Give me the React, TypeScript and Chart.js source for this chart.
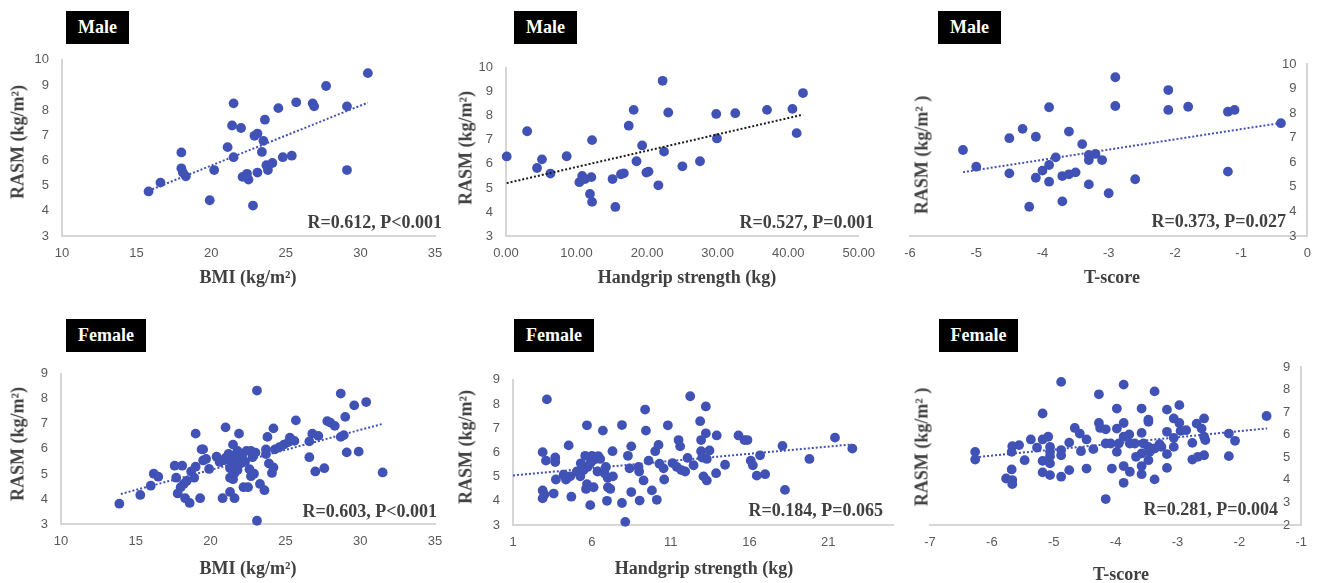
import React, { useEffect, useRef } from 'react';
import { Chart, registerables } from 'chart.js';

Chart.register(...registerables);

// ---------------- data ----------------
const maleBmiX = [15.8, 16.6, 18.0, 18.0, 18.1, 18.3, 19.9, 20.2, 21.1, 21.5, 21.4, 21.5, 22.0, 22.1, 22.4, 22.5, 22.8, 22.9, 23.1, 23.1, 23.5, 23.4, 23.6, 23.7, 23.8, 24.1, 24.5, 24.8, 25.4, 25.7, 26.8, 26.9, 27.7, 29.1, 29.1, 30.5];
const maleBmiY = [4.77, 5.12, 6.32, 5.69, 5.52, 5.37, 4.42, 5.62, 6.53, 8.27, 7.39, 6.13, 7.29, 5.35, 5.47, 5.24, 4.21, 6.98, 7.07, 5.52, 6.78, 6.34, 7.62, 5.81, 5.62, 5.9, 8.08, 6.13, 6.19, 8.31, 8.27, 8.15, 8.96, 8.15, 5.62, 9.47];
const maleBmiTrendX = [15.8, 30.5];
const maleBmiTrendY = [4.8, 8.3];

const maleGripX = [0.1, 3.0, 4.4, 5.1, 6.3, 8.6, 10.4, 10.8, 11.2, 12.1, 12.2, 11.9, 12.2, 15.1, 15.5, 16.3, 16.7, 17.4, 18.1, 18.5, 19.3, 19.9, 20.2, 21.6, 22.2, 22.4, 23.0, 25.0, 27.5, 29.8, 29.9, 32.5, 37.0, 40.6, 41.2, 42.1];
const maleGripY = [6.31, 7.36, 5.83, 6.19, 5.6, 6.32, 5.24, 5.5, 5.37, 5.45, 6.99, 4.75, 4.42, 5.37, 4.21, 5.57, 5.61, 7.59, 8.25, 6.11, 6.77, 5.64, 5.68, 5.11, 9.46, 6.51, 8.14, 5.9, 6.11, 8.08, 7.06, 8.11, 8.25, 8.29, 7.28, 8.95];
const maleGripTrendX = [0.1, 42.1];
const maleGripTrendY = [5.2, 8.05];

const maleTX = [-5.2, -5.0, -4.5, -4.5, -4.3, -4.2, -4.1, -4.1, -4.0, -3.9, -3.9, -3.9, -3.8, -3.7, -3.7, -3.6, -3.6, -3.5, -3.4, -3.3, -3.3, -3.3, -3.2, -3.1, -3.0, -2.9, -2.9, -2.6, -2.1, -2.1, -1.8, -1.2, -1.1, -1.2, -0.4];
const maleTY = [6.5, 5.82, 6.98, 5.55, 7.36, 4.19, 7.04, 5.37, 5.66, 8.24, 5.89, 5.21, 6.2, 5.44, 4.41, 7.25, 5.51, 5.59, 6.74, 6.3, 6.09, 5.1, 6.34, 6.09, 4.74, 9.46, 8.29, 5.31, 8.94, 8.13, 8.26, 8.06, 8.13, 5.62, 7.59];
const maleTTrendX = [-5.2, -0.4];
const maleTTrendY = [5.6, 7.6];

const femaleBmiX = [13.9, 15.3, 16.0, 16.2, 16.5, 17.6, 17.7, 17.8, 18.1, 18.0, 18.2, 18.4, 18.3, 18.6, 18.7, 19.0, 18.9, 19.0, 19.3, 19.4, 19.5, 19.5, 19.7, 19.9, 20.4, 20.6, 20.8, 21.0, 21.0, 21.3, 21.3, 21.3, 21.5, 21.5, 21.5, 21.6, 21.6, 21.8, 21.8, 21.9, 21.9, 22.0, 22.2, 22.4, 22.5, 22.6, 22.7, 22.7, 22.8, 22.9, 23.1, 23.1, 23.3, 23.6, 23.7, 23.7, 23.8, 23.9, 24.1, 24.2, 24.2, 24.3, 24.6, 24.9, 25.2, 25.3, 25.6, 25.7, 26.6, 26.6, 26.8, 27.0, 27.2, 27.6, 27.8, 28.0, 28.3, 28.7, 28.7, 28.9, 29.0, 29.1, 29.6, 29.9, 30.4, 31.5, 21.3, 21.5, 21.8, 22.0, 22.3, 21.7, 21.2, 22.1, 20.9, 23.0];
const femaleBmiY = [3.81, 4.16, 4.53, 5.01, 4.89, 5.33, 4.85, 4.22, 5.33, 4.47, 4.6, 4.72, 4.03, 3.84, 5.1, 5.29, 4.85, 6.61, 4.03, 5.98, 5.98, 5.54, 5.6, 5.2, 5.69, 5.48, 4.03, 6.86, 5.64, 5.54, 4.85, 4.28, 6.17, 5.16, 5.73, 5.04, 4.03, 5.92, 5.42, 6.61, 5.6, 5.79, 4.47, 5.92, 4.47, 5.19, 5.92, 4.91, 5.67, 5.01, 8.33, 3.13, 4.6, 4.35, 5.98, 5.79, 6.48, 5.42, 5.04, 6.82, 5.26, 5.98, 6.07, 6.17, 6.27, 6.45, 6.32, 7.14, 5.67, 6.3, 6.61, 5.1, 6.52, 5.23, 7.11, 7.05, 6.92, 8.21, 6.48, 6.55, 7.28, 5.86, 7.74, 5.89, 7.87, 5.06, 5.23, 4.79, 5.16, 5.42, 5.48, 5.67, 5.8, 5.7, 5.55, 5.85];
const femaleBmiTrendX = [14.0, 31.5];
const femaleBmiTrendY = [4.2, 7.0];

const femaleGripX = [3.15, 2.88, 3.09, 2.88, 2.88, 2.99, 3.58, 3.68, 3.68, 3.72, 4.21, 4.36, 4.53, 4.63, 4.7, 5.05, 5.27, 5.48, 5.58, 5.63, 5.69, 5.69, 5.73, 5.9, 6.01, 6.05, 6.11, 6.22, 6.36, 6.53, 6.7, 6.81, 6.89, 6.96, 7.0, 7.02, 7.17, 7.31, 7.34, 7.91, 7.91, 8.12, 8.29, 8.39, 8.5, 8.5, 8.96, 9.0, 9.03, 9.28, 9.38, 9.43, 9.6, 9.81, 10.02, 10.12, 10.23, 10.29, 10.55, 10.59, 10.82, 11.12, 11.39, 11.5, 11.6, 11.67, 11.92, 12.07, 12.24, 12.45, 12.87, 12.93, 12.93, 13.0, 13.08, 13.23, 13.23, 13.29, 13.29, 13.46, 13.92, 13.88, 14.45, 15.3, 15.68, 15.87, 16.08, 16.21, 16.46, 16.67, 16.99, 18.09, 18.25, 19.8, 21.42, 22.52, 5.3, 6.4, 5.9];
const femaleGripY = [8.19, 6.01, 5.66, 4.43, 4.1, 4.26, 4.3, 5.79, 5.6, 4.88, 5.08, 4.88, 6.29, 5.01, 4.17, 5.21, 5.01, 5.27, 5.86, 4.49, 7.12, 4.69, 5.4, 3.82, 5.86, 5.66, 4.56, 5.73, 5.21, 5.73, 6.9, 5.14, 5.4, 4.0, 4.95, 4.56, 4.49, 6.05, 5.01, 7.13, 3.91, 3.13, 5.86, 5.34, 6.25, 4.36, 5.4, 5.21, 4.01, 4.84, 7.77, 6.9, 5.66, 4.43, 6.05, 4.04, 6.31, 5.53, 5.34, 4.88, 7.12, 5.56, 5.4, 6.51, 6.25, 5.27, 5.21, 5.77, 8.32, 5.47, 7.29, 6.51, 6.05, 5.79, 5.01, 7.9, 6.79, 5.73, 4.84, 6.08, 6.7, 5.14, 5.49, 6.7, 6.51, 6.51, 5.66, 5.47, 5.04, 5.88, 5.1, 6.27, 4.45, 5.73, 6.61, 6.16, 5.55, 5.85, 5.55];
const femaleGripTrendX = [1.0, 22.5];
const femaleGripTrendY = [5.05, 6.33];

const femaleTX = [-6.27, -6.27, -5.77, -5.68, -5.68, -5.67, -5.67, -5.67, -5.56, -5.47, -5.37, -5.27, -5.18, -5.18, -5.18, -5.18, -5.09, -5.06, -5.06, -5.06, -5.06, -5.06, -4.88, -4.88, -4.88, -4.88, -4.75, -4.75, -4.66, -4.58, -4.56, -4.47, -4.47, -4.36, -4.27, -4.27, -4.25, -4.16, -4.16, -4.16, -4.08, -4.06, -3.98, -3.98, -3.98, -3.95, -3.87, -3.87, -3.87, -3.87, -3.87, -3.78, -3.77, -3.77, -3.69, -3.67, -3.58, -3.58, -3.58, -3.58, -3.58, -3.55, -3.47, -3.47, -3.47, -3.47, -3.45, -3.37, -3.37, -3.37, -3.29, -3.26, -3.17, -3.17, -3.17, -3.17, -3.06, -3.06, -3.06, -2.97, -2.97, -2.95, -2.86, -2.76, -2.76, -2.69, -2.67, -2.61, -2.57, -2.57, -2.57, -2.55, -2.17, -2.17, -2.07, -1.56];
const femaleTY = [5.24, 4.9, 4.06, 5.24, 4.46, 3.99, 3.81, 5.49, 5.54, 4.87, 5.79, 5.43, 6.94, 5.79, 4.84, 4.33, 5.91, 5.46, 5.24, 5.05, 4.73, 4.21, 8.34, 5.32, 5.09, 4.14, 5.65, 4.43, 6.3, 6.05, 5.27, 5.79, 4.5, 5.36, 7.79, 6.52, 6.3, 6.24, 3.15, 5.61, 5.61, 4.5, 7.16, 6.27, 5.24, 5.61, 8.22, 6.52, 5.91, 4.61, 3.87, 6.01, 4.36, 5.61, 5.61, 5.02, 7.16, 6.08, 5.17, 4.61, 4.25, 5.61, 6.67, 6.57, 5.46, 4.87, 5.24, 7.92, 5.39, 4.02, 5.58, 5.46, 7.11, 6.13, 5.14, 4.53, 6.72, 5.86, 5.46, 7.31, 6.52, 6.17, 6.2, 5.64, 4.9, 6.49, 5.02, 6.27, 6.72, 5.91, 5.09, 5.76, 6.05, 5.05, 5.73, 6.83];
const femaleTTrendX = [-6.27, -1.55];
const femaleTTrendY = [5.0, 6.28];

// tick values and labels
const bmiTicks = [10, 15, 20, 25, 30, 35];
const bmiTickLabels = ['10', '15', '20', '25', '30', '35'];
const maleGripTicks = [0, 10, 20, 30, 40, 50];
const maleGripTickLabels = ['0.00', '10.00', '20.00', '30.00', '40.00', '50.00'];
const maleTTicks = [-6, -5, -4, -3, -2, -1, 0];
const maleTTickLabels = ['-6', '-5', '-4', '-3', '-2', '-1', '0'];
const femaleGripTicks = [1, 6, 11, 16, 21];
const femaleGripTickLabels = ['1', '6', '11', '16', '21'];
const femaleTTicks = [-7, -6, -5, -4, -3, -2, -1];
const femaleTTickLabels = ['-7', '-6', '-5', '-4', '-3', '-2', '-1'];
const maleYTicks = [3, 4, 5, 6, 7, 8, 9, 10];
const maleYTickLabels = ['3', '4', '5', '6', '7', '8', '9', '10'];
const femaleYTicks = [3, 4, 5, 6, 7, 8, 9];
const femaleYTickLabels = ['3', '4', '5', '6', '7', '8', '9'];
const femaleTYTicks = [2, 3, 4, 5, 6, 7, 8, 9];
const femaleTYTickLabels = ['2', '3', '4', '5', '6', '7', '8', '9'];

const groupLabels = ['Male', 'Female'];
const statLabels = [
  'R=0.612, P<0.001',
  'R=0.527, P=0.001',
  'R=0.373, P=0.027',
  'R=0.603, P<0.001',
  'R=0.184, P=0.065',
  'R=0.281, P=0.004',
];
const xTitles = ['BMI (kg/m²)', 'Handgrip strength (kg)', 'T-score'];
const yTitleLeft = 'RASM (kg/m²)';
const yTitleRight = 'RASM (kg/m² )';

// ---------------- styles ----------------
const BLUE = '#4152B6';
const AXIS = '#d6d6d6';
const TICK = '#595959';
const TEXT = '#404040';
const SERIF = '"Liberation Serif", "Times New Roman", serif';
const SANS = '"Liberation Sans", Arial, sans-serif';

type Spec = {
  xs: number[]; ys: number[]; tx: number[]; ty: number[];
  xMin: number; xMax: number; xTicks: number[]; xLabels: string[];
  yMin: number; yMax: number; yTicks: number[]; yLabels: string[];
  yRight: boolean; trendColor: string;
  area: { l: number; t: number; r: number; b: number };
  group: string; box: { l: number; t: number; w: number; h: number };
  xTitle: string; xTitlePos: [number, number];
  yTitle: string; yTitlePos: [number, number];
  stat: string; statPos: [number, number];
};

const specs: Spec[] = [
  {
    xs: maleBmiX, ys: maleBmiY, tx: maleBmiTrendX, ty: maleBmiTrendY,
    xMin: 10, xMax: 35, xTicks: bmiTicks, xLabels: bmiTickLabels,
    yMin: 3, yMax: 10, yTicks: maleYTicks, yLabels: maleYTickLabels,
    yRight: false, trendColor: BLUE,
    area: { l: 62, t: 51, r: 435, b: 236 },
    group: groupLabels[0], box: { l: 66, t: 11, w: 63, h: 33 },
    xTitle: xTitles[0], xTitlePos: [248, 277],
    yTitle: yTitleLeft, yTitlePos: [18, 142],
    stat: statLabels[0], statPos: [442, 222],
  },
  {
    xs: maleGripX, ys: maleGripY, tx: maleGripTrendX, ty: maleGripTrendY,
    xMin: 0, xMax: 50, xTicks: maleGripTicks, xLabels: maleGripTickLabels,
    yMin: 3, yMax: 10, yTicks: maleYTicks, yLabels: maleYTickLabels,
    yRight: false, trendColor: '#1a1a1a',
    area: { l: 506, t: 59, r: 865, b: 236 },
    group: groupLabels[0], box: { l: 514, t: 11, w: 63, h: 33 },
    xTitle: xTitles[1], xTitlePos: [687, 277],
    yTitle: yTitleLeft, yTitlePos: [466, 148],
    stat: statLabels[1], statPos: [874, 222],
  },
  {
    xs: maleTX, ys: maleTY, tx: maleTTrendX, ty: maleTTrendY,
    xMin: -6, xMax: 0, xTicks: maleTTicks, xLabels: maleTTickLabels,
    yMin: 3, yMax: 10, yTicks: maleYTicks, yLabels: maleYTickLabels,
    yRight: true, trendColor: BLUE,
    area: { l: 910, t: 64, r: 1313, b: 236 },
    group: groupLabels[0], box: { l: 938, t: 11, w: 63, h: 33 },
    xTitle: xTitles[2], xTitlePos: [1112, 277],
    yTitle: yTitleRight, yTitlePos: [922, 155],
    stat: statLabels[2], statPos: [1286, 221],
  },
  {
    xs: femaleBmiX, ys: femaleBmiY, tx: femaleBmiTrendX, ty: femaleBmiTrendY,
    xMin: 10, xMax: 35, xTicks: bmiTicks, xLabels: bmiTickLabels,
    yMin: 3, yMax: 9, yTicks: femaleYTicks, yLabels: femaleYTickLabels,
    yRight: false, trendColor: BLUE,
    area: { l: 61, t: 365, r: 435, b: 524 },
    group: groupLabels[1], box: { l: 66, t: 319, w: 80, h: 33 },
    xTitle: xTitles[0], xTitlePos: [248, 568],
    yTitle: yTitleLeft, yTitlePos: [18, 444],
    stat: statLabels[3], statPos: [437, 511],
  },
  {
    xs: femaleGripX, ys: femaleGripY, tx: femaleGripTrendX, ty: femaleGripTrendY,
    xMin: 1, xMax: 25.1, xTicks: femaleGripTicks, xLabels: femaleGripTickLabels,
    yMin: 3, yMax: 9, yTicks: femaleYTicks, yLabels: femaleYTickLabels,
    yRight: false, trendColor: BLUE,
    area: { l: 513, t: 371, r: 893, b: 525 },
    group: groupLabels[1], box: { l: 514, t: 319, w: 80, h: 33 },
    xTitle: xTitles[1], xTitlePos: [704, 568],
    yTitle: yTitleLeft, yTitlePos: [466, 447],
    stat: statLabels[4], statPos: [883, 510],
  },
  {
    xs: femaleTX, ys: femaleTY, tx: femaleTTrendX, ty: femaleTTrendY,
    xMin: -7, xMax: -1, xTicks: femaleTTicks, xLabels: femaleTTickLabels,
    yMin: 2, yMax: 9, yTicks: femaleTYTicks, yLabels: femaleTYTickLabels,
    yRight: true, trendColor: BLUE,
    area: { l: 930, t: 367, r: 1309, b: 525 },
    group: groupLabels[1], box: { l: 939, t: 319, w: 79, h: 33 },
    xTitle: xTitles[2], xTitlePos: [1121, 574],
    yTitle: yTitleRight, yTitlePos: [922, 447],
    stat: statLabels[5], statPos: [1278, 509],
  },
];

const WY = 45;
const HX = 30;
const PAD_TOP = 12;
const PAD_BOTTOM = 4;

function Panel({ s }: { s: Spec }) {
  const ref = useRef<HTMLCanvasElement>(null);
  const cx = s.area.l - (s.yRight ? 24 : WY + 4);
  const cy = s.area.t - PAD_TOP;
  const cr = s.area.r + (s.yRight ? 8 : 20);
  const cb = s.area.b + HX + PAD_BOTTOM;
  const cw = cr - cx;
  const ch = cb - cy;

  useEffect(() => {
    if (!ref.current) return;
    const chart = new Chart(ref.current, {
      type: 'scatter',
      data: {
        datasets: [
          {
            data: s.tx.map((x, i) => ({ x, y: s.ty[i] })),
            showLine: true,
            borderColor: s.trendColor,
            borderWidth: 2,
            borderDash: [2, 2],
            pointRadius: 0,
            fill: false,
            clip: false,
          } as any,
          {
            data: s.xs.map((x, i) => ({ x, y: s.ys[i] })),
            pointRadius: 4.9,
            pointBackgroundColor: BLUE,
            backgroundColor: BLUE,
            pointBorderWidth: 0,
            borderWidth: 0,
            clip: false,
          } as any,
        ],
      },
      options: {
        animation: false,
        responsive: false,
        maintainAspectRatio: false,
        devicePixelRatio: 1,
        events: [],
        layout: {
          padding: {
            left: s.yRight ? s.area.l - cx : s.area.l - cx - WY,
            top: PAD_TOP,
            right: cr - s.area.r,
            bottom: PAD_BOTTOM,
          },
        },
        plugins: { legend: { display: false }, tooltip: { enabled: false } },
        scales: {
          x: {
            type: 'linear',
            min: s.xMin,
            max: s.xMax,
            afterBuildTicks: (a: any) => { a.ticks = s.xTicks.map((v) => ({ value: v })); },
            afterFit: (a: any) => { a.height = HX; },
            grid: { display: false, drawTicks: false },
            border: { display: true, color: AXIS, width: 2 },
            ticks: {
              color: TICK,
              font: { family: SANS, size: 13 },
              padding: 10,
              maxRotation: 0,
              autoSkip: false,
              callback: (_v: any, i: number) => s.xLabels[i],
            },
          },
          y: {
            type: 'linear',
            position: s.yRight ? 'right' : 'left',
            min: s.yMin,
            max: s.yMax,
            afterBuildTicks: (a: any) => { a.ticks = s.yTicks.map((v) => ({ value: v })); },
            afterFit: (a: any) => { a.width = s.yRight ? 0 : WY; },
            grid: { display: false, drawTicks: false },
            border: { display: true, color: AXIS, width: 2 },
            ticks: {
              color: TICK,
              font: { family: SANS, size: 13 },
              padding: s.yRight ? -11 : 13,
              mirror: s.yRight,
              autoSkip: false,
              callback: (_v: any, i: number) => s.yLabels[i],
            },
          },
        },
      } as any,
    });
    return () => chart.destroy();
  }, []);

  return (
    <>
      <canvas
        ref={ref}
        width={cw}
        height={ch}
        style={{ position: 'absolute', left: cx, top: cy, width: cw, height: ch }}
      />
      <div
        style={{
          position: 'absolute', left: s.box.l, top: s.box.t, width: s.box.w, height: s.box.h,
          background: '#000', color: '#fff', fontFamily: SERIF, fontWeight: 'bold', fontSize: 18,
          display: 'flex', alignItems: 'center', justifyContent: 'center',
        }}
      >
        {s.group}
      </div>
      <div
        style={{
          position: 'absolute', left: s.xTitlePos[0], top: s.xTitlePos[1],
          transform: 'translate(-50%, -50%)', whiteSpace: 'nowrap',
          fontFamily: SERIF, fontWeight: 'bold', fontSize: 18, color: TEXT,
        }}
      >
        {s.xTitle}
      </div>
      <div
        style={{
          position: 'absolute', left: s.yTitlePos[0], top: s.yTitlePos[1],
          transform: 'translate(-50%, -50%) rotate(-90deg)', whiteSpace: 'nowrap',
          fontFamily: SERIF, fontWeight: 'bold', fontSize: 18, color: TEXT,
        }}
      >
        {s.yTitle}
      </div>
      <div
        style={{
          position: 'absolute', left: s.statPos[0], top: s.statPos[1],
          transform: 'translate(-100%, -50%)', whiteSpace: 'nowrap',
          fontFamily: SERIF, fontWeight: 'bold', fontSize: 18, color: TEXT,
        }}
      >
        {s.stat}
      </div>
    </>
  );
}

export default function App() {
  return (
    <div
      style={{
        position: 'absolute', left: 0, top: 0, width: 1323, height: 583,
        background: '#fff', overflow: 'hidden',
      }}
    >
      {specs.map((s, i) => (
        <Panel key={i} s={s} />
      ))}
    </div>
  );
}
